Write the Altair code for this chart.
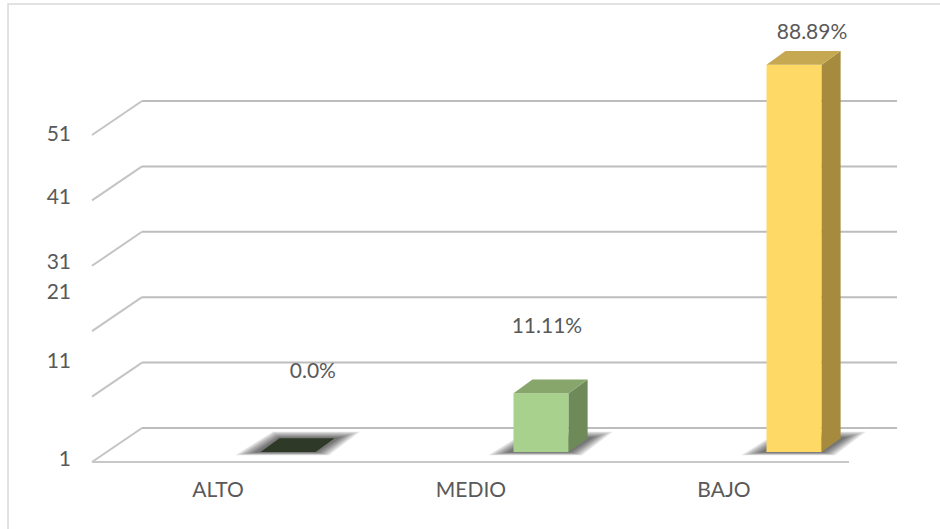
import altair as alt
import pandas as pd

# ---------------- data ----------------
categories = ["ALTO", "MEDIO", "BAJO"]
bar_values = [0.0, 10.0, 60.2]            # plotted heights on the 1..51 value axis
pct_labels = ["0.0%", "11.11%", "88.89%"]
tick_values = [1, 11, 21, 31, 41, 51]
tick_texts = ["1", "11", "21", "31", "41", "51"]
tick_label_at = [1.3, 16.3, 26.8, 31.4, 41.4, 51.0]   # where the labels sit in the reference
label_dx = [0.375, 0.300, 0.348]                     # data label anchors (relative to category)
label_y = [14.8, 21.6, 66.6]

front_colors = ["#2e3a27", "#a9d18e", "#ffd966"]
top_colors = ["#2e3a27", "#87a66c", "#c6a852"]
side_colors = ["#2e3a27", "#6e8a59", "#a68b3e"]

# ---------------- geometry (style constants) ----------------
X_DOM = [-0.8617, 2.8538]
Y_DOM = [-9.245, 71.64]
AXIS_MIN = 1
WALL_DX, WALL_DY = 0.1976, 5.2
FRONT_X = -0.498
BACK_END = 2.684
FLOOR_END = 2.494
BAR_OFF, BAR_HALF = 0.277, 0.109
BAR_DX, BAR_DY = 0.075, 2.1
BAR_BASE = AXIS_MIN + 1.53

xs = alt.Scale(domain=X_DOM, nice=False, zero=False)
ys = alt.Scale(domain=Y_DOM, nice=False, zero=False)
FONT = "Lato"
TXT = "#595959"


def X(f):
    return alt.X(f, type="quantitative", scale=xs, axis=None)


def Y(f):
    return alt.Y(f, type="quantitative", scale=ys, axis=None)


# border
border = alt.Chart(pd.DataFrame({"x": [-0.830], "x2": [2.95], "y": [71.03], "y2": [-10.0]})).mark_rect(
    fillOpacity=0, stroke="#d9d9d9", strokeWidth=1.5
).encode(x=X("x"), x2="x2", y=Y("y"), y2="y2")

# gridlines
grid = pd.DataFrame({"v": tick_values})
grid["xf"] = FRONT_X
grid["xb"] = FRONT_X + WALL_DX
grid["xe"] = BACK_END
grid["vb"] = grid["v"] + WALL_DY
diag = alt.Chart(grid).mark_rule(color="#c4c4c4", strokeWidth=2).encode(
    x=X("xf"), y=Y("v"), x2="xb", y2="vb")
back = alt.Chart(grid).mark_rule(color="#bdbdbd", strokeWidth=2).encode(
    x=X("xb"), x2="xe", y=Y("vb"))
floor = alt.Chart(pd.DataFrame({"x": [FRONT_X], "x2": [FLOOR_END], "y": [AXIS_MIN]})).mark_rule(
    color="#c8c8c8", strokeWidth=2).encode(x=X("x"), x2="x2", y=Y("y"))

# bars
rows, tops, sides, shadows = [], [], [], []
for i, (c, v) in enumerate(zip(categories, bar_values)):
    h = max(v - AXIS_MIN, 0)
    x0, x1 = i + BAR_OFF - BAR_HALF, i + BAR_OFF + BAR_HALF
    yt = BAR_BASE + h
    rows.append({"cat": c, "x0": x0, "x1": x1, "y0": BAR_BASE, "y1": yt, "fill": front_colors[i]})
    tops.append({"key": c, "y": yt, "x": x0, "x2": x1, "fill": top_colors[i]})
    tops.append({"key": c, "y": yt + BAR_DY, "x": x0 + BAR_DX, "x2": x1 + BAR_DX, "fill": top_colors[i]})
    if h > 0:
        sides.append({"key": c, "x": x1, "y": BAR_BASE, "y2": yt, "fill": side_colors[i]})
        sides.append({"key": c, "x": x1 + BAR_DX, "y": BAR_BASE + BAR_DY, "y2": yt + BAR_DY, "fill": side_colors[i]})
    for k in range(1, 8):
        ex = 0.0125 * k
        ey = 0.09 * k
        key = f"{c}-{k}"
        shadows.append({"key": key, "y": BAR_BASE - ey * 0.8, "x": x0 - ex - 0.012, "x2": x1 + ex * 0.6})
        shadows.append({"key": key, "y": BAR_BASE + BAR_DY + ey * 1.6, "x": x0 + BAR_DX - ex * 0.3,
                        "x2": x1 + BAR_DX + ex + 0.012})

shadow = alt.Chart(pd.DataFrame(shadows)).mark_area(orient="horizontal", color="#000000", opacity=0.1).encode(
    y=Y("y"), x=X("x"), x2="x2", detail="key:N")
front_df = pd.DataFrame(rows)
front = alt.Chart(front_df[front_df["y1"] > front_df["y0"]]).mark_rect().encode(
    x=X("x0"), x2="x1", y=Y("y0"), y2="y1", color=alt.Color("fill:N", scale=None))
top = alt.Chart(pd.DataFrame(tops)).mark_area(orient="horizontal").encode(
    y=Y("y"), x=X("x"), x2="x2", detail="key:N", color=alt.Color("fill:N", scale=None))
side = alt.Chart(pd.DataFrame(sides)).mark_area(orient="vertical").encode(
    x=X("x"), y=Y("y"), y2="y2", detail="key:N", color=alt.Color("fill:N", scale=None))

# texts
lab_df = pd.DataFrame({"t": pct_labels, "x": [i + d for i, d in enumerate(label_dx)], "y": label_y})
labels = alt.Chart(lab_df).mark_text(font=FONT, fontSize=21, color=TXT, baseline="middle").encode(
    x=X("x"), y=Y("y"), text="t:N")
cat_df = pd.DataFrame({"t": categories, "x": list(range(len(categories))), "y": [-3.44] * 3})
cats = alt.Chart(cat_df).mark_text(font=FONT, fontSize=21, color=TXT, baseline="middle").encode(
    x=X("x"), y=Y("y"), text="t:N")
tick_df = pd.DataFrame({"t": tick_texts, "y": tick_label_at, "x": [-0.581] * len(tick_texts)})
ticks = alt.Chart(tick_df).mark_text(font=FONT, fontSize=21, color=TXT, baseline="middle", align="right").encode(
    x=X("x"), y=Y("y"), text="t:N")

chart = alt.layer(border, diag, back, floor, shadow, front, side, top, labels, cats, ticks).properties(
    width=940, height=529, padding=0, autosize=alt.AutoSizeParams(type="none")
).configure_view(stroke=None)

chart.save("out.html", embed_options={"renderer": "svg", "actions": False})
